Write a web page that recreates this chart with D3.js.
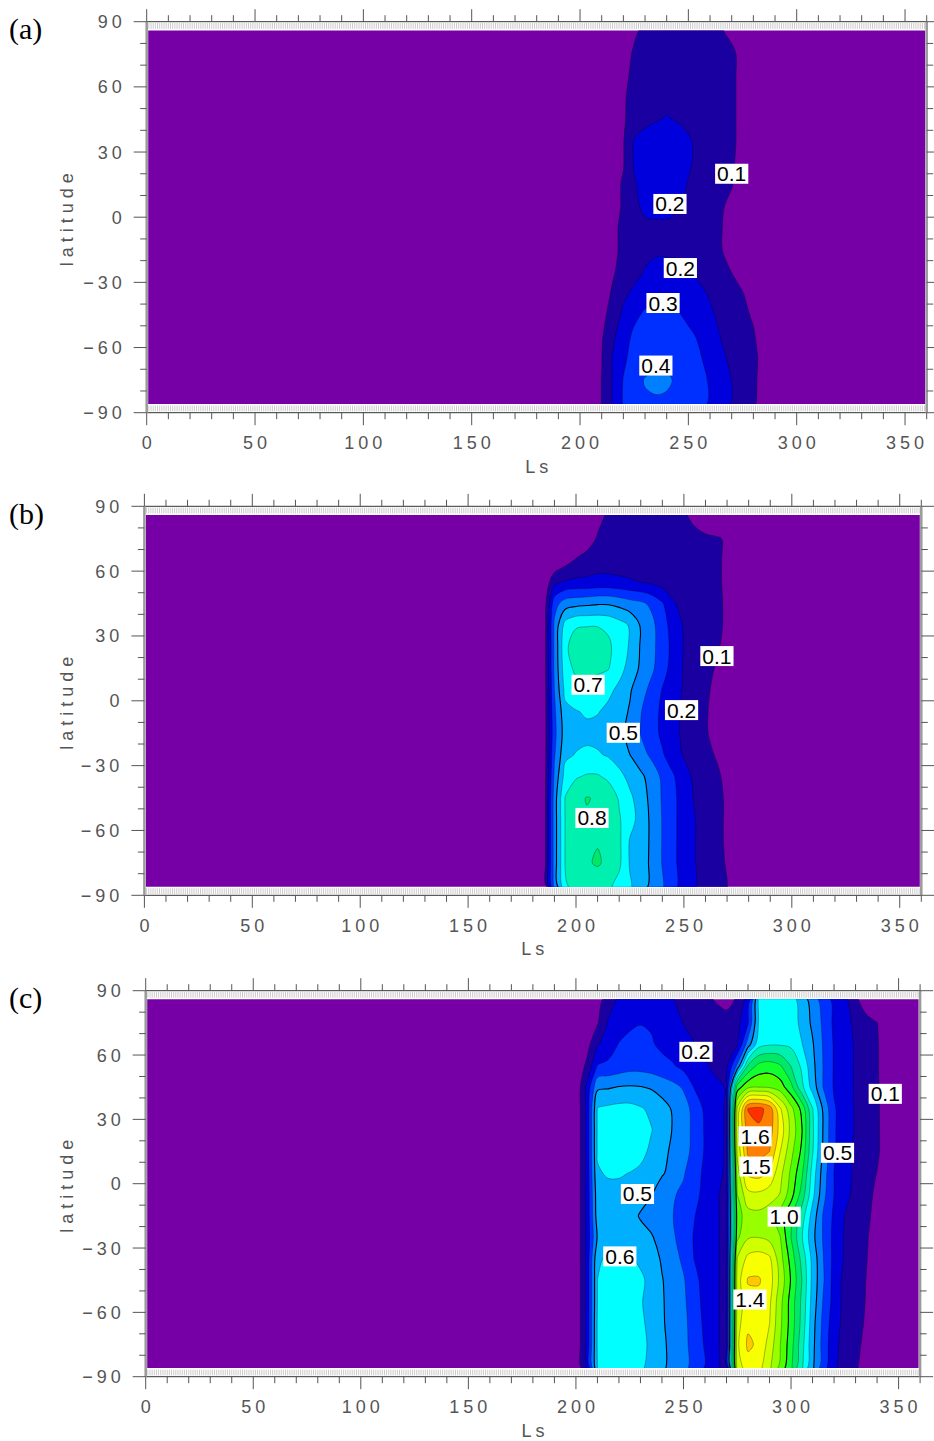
<!DOCTYPE html>
<html>
<head>
<meta charset="utf-8">
<script src="https://cdn.jsdelivr.net/npm/d3@7"></script>
<style>
  body { margin: 0; background: #fff; }
  svg { display: block; }
</style>
</head>
<body>
<svg id="chart" width="934" height="1441"></svg>
<script>
// contour levels and tick labels
const levels = [0.1, 0.2, 0.3, 0.4, 0.5, 0.6, 0.7, 0.8, 0.9, 1.0, 1.1, 1.2, 1.3, 1.4, 1.5, 1.6];
const xTicks = [0, 50, 100, 150, 200, 250, 300, 350];
const yTicks = [-90, -60, -30, 0, 30, 60, 90];

// grid rows (latitude, north to south)
const lat = [85, 75, 65, 55, 45, 35, 25, 15, 5, -5, -15, -25, -35, -45, -55, -65, -75, -85];

// (a) columns Ls 200..290
const lsA = [200, 205, 210, 215, 220, 225, 230, 235, 240, 245, 250, 255, 260, 265, 270, 275, 280, 285, 290];
const valuesA = [
  [0, 0, 0, .02, .05, .09, .12, .13, .13, .13, .13, .12, .12, .11, .08, .03, 0, 0, 0],
  [0, 0, 0, .02, .07, .11, .14, .15, .15, .15, .15, .14, .14, .13, .12, .07, .02, 0, 0],
  [0, 0, 0, .03, .08, .12, .15, .16, .17, .17, .16, .15, .14, .13, .12, .07, .02, 0, 0],
  [0, 0, 0, .04, .09, .13, .16, .17, .18, .17, .16, .15, .14, .13, .12, .07, .02, 0, 0],
  [0, 0, 0, .05, .09, .14, .18, .195, .205, .195, .18, .16, .14, .13, .12, .07, .02, 0, 0],
  [0, 0, .02, .06, .095, .21, .23, .24, .24, .23, .21, .18, .15, .13, .12, .07, .02, 0, 0],
  [0, 0, .02, .06, .095, .21, .24, .25, .25, .24, .21, .18, .15, .13, .115, .06, .02, 0, 0],
  [0, 0, .03, .07, .11, .19, .24, .25, .25, .23, .195, .17, .14, .12, .105, .05, .01, 0, 0],
  [0, 0, .03, .07, .11, .18, .22, .23, .23, .21, .18, .15, .13, .11, .08, .03, 0, 0, 0],
  [0, 0, .03, .08, .12, .16, .18, .18, .18, .17, .16, .14, .12, .105, .07, .02, 0, 0, 0],
  [0, 0, .03, .08, .12, .16, .18, .19, .19, .19, .17, .15, .13, .105, .07, .02, 0, 0, 0],
  [0, .01, .05, .09, .13, .17, .205, .22, .22, .215, .205, .18, .15, .13, .098, .05, .01, 0, 0],
  [0, .02, .06, .11, .18, .22, .26, .28, .28, .27, .25, .22, .19, .16, .13, .105, .05, .01, 0],
  [0, .03, .07, .14, .22, .28, .315, .33, .325, .31, .28, .25, .215, .18, .15, .12, .09, .03, 0],
  [0, .04, .09, .18, .26, .32, .35, .36, .36, .35, .32, .29, .25, .198, .17, .14, .11, .05, 0],
  [.01, .05, .098, .205, .28, .34, .37, .38, .38, .37, .34, .31, .27, .22, .18, .15, .12, .07, .01],
  [.01, .05, .102, .205, .305, .37, .405, .41, .41, .39, .36, .33, .29, .24, .198, .15, .12, .06, .01],
  [.01, .05, .102, .205, .31, .37, .39, .395, .39, .37, .35, .32, .295, .24, .198, .15, .115, .06, .01]
];

// (b) columns Ls 180..280
const lsB = [180, 185, 190, 195, 200, 205, 210, 215, 220, 225, 230, 235, 240, 245, 250, 255, 260, 265, 270, 275, 280];
const valuesB = [
  [0, 0, 0, 0, 0, .01, .07, .12, .14, .14, .14, .13, .13, .12, .11, .085, .05, .02, 0, 0, 0],
  [0, 0, 0, 0, .01, .05, .11, .14, .15, .15, .15, .14, .14, .13, .13, .12, .115, .11, .09, .02, 0],
  [0, 0, .01, .06, .11, .14, .15, .15, .15, .15, .15, .14, .14, .13, .13, .12, .12, .11, .09, .02, 0],
  [0, .02, .17, .21, .22, .22, .23, .23, .22, .21, .198, .18, .16, .15, .14, .13, .12, .11, .09, .02, 0],
  [0, .03, .36, .45, .47, .48, .49, .49, .47, .44, .42, .38, .31, .21, .17, .14, .13, .115, .09, .02, 0],
  [0, .03, .42, .64, .69, .695, .695, .68, .64, .59, .49, .43, .34, .26, .19, .15, .13, .115, .09, .02, 0],
  [0, .03, .42, .68, .75, .76, .76, .72, .65, .59, .49, .43, .35, .27, .195, .16, .13, .11, .08, .02, 0],
  [0, .03, .42, .66, .72, .73, .72, .705, .63, .57, .48, .42, .34, .26, .19, .15, .12, .095, .05, .01, 0],
  [0, .03, .4, .63, .66, .66, .65, .62, .58, .51, .44, .37, .295, .24, .19, .15, .115, .08, .03, 0, 0],
  [0, .03, .38, .57, .595, .61, .605, .58, .54, .49, .405, .34, .28, .23, .18, .14, .11, .07, .02, 0, 0],
  [0, .03, .37, .55, .57, .58, .57, .55, .52, .48, .395, .34, .28, .23, .18, .14, .11, .07, .02, 0, 0],
  [0, .03, .39, .58, .605, .615, .61, .59, .55, .5, .44, .38, .31, .25, .19, .15, .12, .095, .04, 0, 0],
  [0, .03, .42, .64, .69, .71, .71, .68, .63, .57, .52, .46, .38, .31, .24, .18, .14, .115, .08, .02, 0],
  [0, .03, .45, .705, .77, .805, .79, .76, .69, .62, .55, .47, .39, .32, .26, .19, .15, .12, .09, .02, 0],
  [0, .03, .45, .705, .77, .79, .79, .77, .71, .64, .56, .48, .395, .32, .26, .205, .15, .12, .09, .02, 0],
  [0, .03, .45, .705, .77, .79, .795, .77, .72, .59, .56, .48, .395, .32, .26, .205, .15, .12, .09, .02, 0],
  [0, .03, .45, .705, .77, .79, .81, .78, .72, .59, .55, .48, .395, .32, .26, .205, .15, .12, .095, .03, 0],
  [0, .03, .44, .69, .74, .76, .75, .72, .67, .61, .55, .48, .41, .33, .26, .21, .16, .12, .102, .03, 0]
];

// (c) columns Ls 195..355
const lsC = [195, 200, 205, 210, 215, 220, 225, 230, 235, 240, 245, 250, 255, 260, 265, 270, 275,
  280, 285, 290, 295, 300, 305, 310, 315, 320, 325, 330, 335, 340, 345, 350, 355];
const valuesC = [
  [0, 0, 0, .06, .16, .22, .25, .26, .25, .23, .205, .18, .15, .12, .098, .08, .11, .25, .62, .66, .67, .65, .56, .46, .36, .28, .23, .13, .04, 0, 0, 0, 0],
  [0, 0, .02, .09, .21, .25, .28, .295, .29, .26, .23, .198, .18, .16, .14, .13, .17, .29, .61, .67, .68, .66, .57, .48, .38, .28, .23, .18, .14, .102, .03, 0, 0],
  [0, .01, .06, .19, .25, .305, .33, .34, .31, .28, .25, .22, .202, .18, .16, .16, .19, .45, .66, .69, .69, .68, .605, .51, .39, .29, .24, .19, .15, .11, .04, 0, 0],
  [0, .02, .12, .305, .32, .34, .36, .36, .35, .33, .31, .27, .24, .21, .18, .18, .42, .81, .93, .95, .91, .795, .68, .53, .395, .29, .24, .19, .15, .11, .04, 0, 0],
  [0, .02, .22, .48, .49, .505, .51, .505, .49, .46, .43, .39, .295, .26, .22, .195, .95, 1.08, 1.1, 1.09, 1.05, .93, .73, .56, .395, .29, .24, .19, .15, .11, .05, 0, 0],
  [0, .02, .22, .605, .62, .63, .63, .61, .58, .54, .49, .44, .37, .28, .23, .19, 1.22, 1.605, 1.63, 1.56, 1.31, 1.13, .97, .705, .48, .31, .25, .19, .15, .115, .05, 0, 0],
  [0, .02, .22, .61, .65, .67, .67, .65, .605, .55, .495, .45, .37, .29, .23, .19, 1.26, 1.56, 1.585, 1.55, 1.36, 1.17, 1.01, .72, .49, .31, .25, .19, .15, .115, .05, 0, 0],
  [0, .02, .22, .61, .65, .66, .66, .63, .58, .53, .48, .44, .37, .29, .23, .19, 1.22, 1.52, 1.53, 1.5, 1.3, 1.13, .98, .71, .48, .31, .24, .18, .15, .115, .05, 0, 0],
  [0, .02, .22, .59, .61, .61, .598, .58, .55, .51, .47, .41, .34, .28, .22, .19, 1.15, 1.42, 1.44, 1.38, 1.23, 1.08, .92, .66, .45, .298, .24, .18, .14, .098, .04, 0, 0],
  [0, .02, .22, .56, .57, .57, .56, .54, .505, .45, .41, .38, .33, .27, .21, .18, 1.1, 1.27, 1.28, 1.25, 1.195, 1.04, .86, .63, .43, .298, .22, .18, .13, .08, .02, 0, 0],
  [0, .02, .22, .55, .56, .56, .54, .49, .46, .43, .402, .36, .305, .25, .21, .18, 1.05, 1.16, 1.17, 1.14, 1.05, .92, .75, .56, .39, .28, .198, .16, .12, .07, .02, 0, 0],
  [0, .02, .22, .51, .56, .57, .56, .54, .51, .46, .41, .37, .29, .24, .21, .18, 1.08, 1.19, 1.198, 1.17, 1.102, .898, .71, .53, .39, .27, .19, .16, .11, .06, .01, 0, 0],
  [0, .02, .22, .59, .61, .62, .61, .58, .54, .49, .44, .38, .298, .25, .21, .18, 1.205, 1.33, 1.35, 1.32, 1.14, .96, .77, .57, .402, .27, .19, .15, .105, .05, .01, 0, 0],
  [0, .02, .22, .6, .63, .64, .64, .62, .57, .505, .46, .41, .33, .26, .21, .18, 1.25, 1.41, 1.41, 1.35, 1.17, .99, .802, .57, .41, .26, .17, .14, .098, .05, .01, 0, 0],
  [0, .02, .22, .6, .63, .65, .64, .61, .56, .51, .46, .42, .34, .27, .21, .18, 1.24, 1.36, 1.37, 1.32, 1.13, .96, .78, .56, .39, .26, .17, .14, .095, .04, 0, 0, 0],
  [0, .02, .22, .61, .64, .66, .65, .62, .57, .51, .47, .43, .35, .28, .21, .18, 1.26, 1.38, 1.38, 1.302, 1.12, .96, .77, .54, .37, .24, .17, .13, .09, .04, 0, 0, 0],
  [0, .02, .22, .61, .64, .66, .66, .63, .58, .52, .47, .43, .36, .29, .21, .18, 1.28, 1.42, 1.38, 1.26, 1.102, .94, .74, .53, .36, .23, .16, .12, .08, .03, 0, 0, 0],
  [0, .02, .22, .602, .63, .65, .65, .62, .57, .52, .47, .43, .37, .298, .21, .18, 1.25, 1.36, 1.34, 1.22, 1.08, .92, .72, .52, .35, .22, .15, .11, .07, .02, 0, 0, 0]
];

// contour labels: text, Ls, latitude
const labelsA = [
  ['0.1', 270, 20], ['0.2', 241.5, 6.1], ['0.2', 246.3, -23.4], ['0.3', 238.3, -39.5], ['0.4', 235, -68.3]
];
const labelsB = [
  ['0.1', 265.3, 20.7], ['0.7', 205.6, 7.4], ['0.5', 221.9, -14.8], ['0.2', 248.9, -4.3], ['0.8', 207.4, -54.2]
];
const labelsC = [
  ['0.2', 255.8, 61.5], ['0.1', 343.8, 41.9], ['1.6', 283.3, 22.1], ['1.5', 283.7, 8], ['0.5', 321.6, 14.4],
  ['0.5', 228.6, -4.8], ['1.0', 296.8, -15.4], ['0.6', 220.4, -33.9], ['1.4', 280.9, -54]
];

const baseColor = '#7600a6';
const bandColors = ['#1a00a0', '#0000dc', '#0030ff', '#0080ff', '#00b0ff', '#00ffff', '#00f0b0', '#00e868',
  '#10ff30', '#50ff00', '#98ff00', '#d0ff00', '#f8ff00', '#ffc800', '#ff8000', '#ff3000'];

const panels = [
  { tag: '(a)', ls: lsA, values: valuesA, labels: labelsA, xr: [146.7, 926.7], yr: [21.7, 412.7] },
  { tag: '(b)', ls: lsB, values: valuesB, labels: labelsB, xr: [144.4, 921.3], yr: [506.3, 895.3] },
  { tag: '(c)', ls: lsC, values: valuesC, labels: labelsC, xr: [145.7, 920.1], yr: [990.7, 1376.7] }
];

const svg = d3.select('#chart');
const axisFont = "'Liberation Sans', Arial, sans-serif";

panels.forEach((p, i) => {
  const x = d3.scaleLinear().domain([0, 360]).range(p.xr);
  const y = d3.scaleLinear().domain([90, -90]).range(p.yr);
  const g = svg.append('g');

  // clip to data area
  const clipId = 'clip' + i;
  g.append('clipPath').attr('id', clipId)
    .append('rect')
    .attr('x', x(0) + 1.5)
    .attr('y', y(86))
    .attr('width', x(360) - x(0) - 3)
    .attr('height', y(-86) - y(86));

  const body = g.append('g').attr('clip-path', `url(#${clipId})`);
  body.append('rect')
    .attr('x', x(0)).attr('y', y(90))
    .attr('width', x(360) - x(0)).attr('height', y(-90) - y(90))
    .attr('fill', baseColor);

  // filled contours
  const nx = p.ls.length, ny = lat.length;
  const step = p.ls[1] - p.ls[0];
  const contours = d3.contours().size([nx, ny]).thresholds(levels)(p.values.flat());
  const line = d3.line()
    .x(d => x(p.ls[0] + (d[0] - 0.5) * step))
    .y(d => y(lat[0] + (d[1] - 0.5) * (lat[1] - lat[0])))
    .curve(d3.curveCatmullRomClosed.alpha(0.5));
  const pathOf = c => c.coordinates
    .map(poly => poly.map(ring => line(ring.slice(0, -1))).join(''))
    .join('');

  body.selectAll('path.band')
    .data(contours)
    .join('path')
    .attr('class', 'band')
    .attr('d', pathOf)
    .attr('fill', (d, k) => bandColors[k]);

  body.selectAll('path.iso')
    .data(contours)
    .join('path')
    .attr('class', 'iso')
    .attr('d', pathOf)
    .attr('fill', 'none')
    .attr('stroke', '#000')
    .attr('stroke-width', d => (d.value === 0.5 || d.value === 1.0) ? 1.1 : 0.5)
    .attr('stroke-opacity', d => (d.value === 0.5 || d.value === 1.0) ? 1 : 0.6);

  // hairline strips top and bottom
  const hair = d3.range(1, 360);
  [[89.4, 86.7], [-86.7, -89.4]].forEach(([a, b]) => {
    g.append('g').selectAll('line')
      .data(hair)
      .join('line')
      .attr('x1', d => x(d)).attr('x2', d => x(d))
      .attr('y1', y(a)).attr('y2', y(b))
      .attr('stroke', '#a8a8a8')
      .attr('stroke-width', 0.6);
  });

  // frame
  g.append('line').attr('x1', x(0)).attr('x2', x(360)).attr('y1', y(90)).attr('y2', y(90))
    .attr('stroke', '#333').attr('stroke-width', 1);
  g.append('line').attr('x1', x(0)).attr('x2', x(360)).attr('y1', y(-90)).attr('y2', y(-90))
    .attr('stroke', '#333').attr('stroke-width', 1);
  g.append('line').attr('x1', x(0)).attr('x2', x(0)).attr('y1', y(90)).attr('y2', y(-90))
    .attr('stroke', '#9a9a9a').attr('stroke-width', 2.5);
  g.append('line').attr('x1', x(360)).attr('x2', x(360)).attr('y1', y(90)).attr('y2', y(-90))
    .attr('stroke', '#9a9a9a').attr('stroke-width', 2.5);

  // ticks
  const lsMinor = d3.range(0, 361, 10);
  const latMinor = d3.range(-90, 91, 10);
  const tick = (sel) => sel.attr('stroke', '#555').attr('stroke-width', 1);

  g.append('g').selectAll('line').data(lsMinor).join('line')
    .attr('x1', d => x(d)).attr('x2', d => x(d))
    .attr('y1', y(90)).attr('y2', d => y(90) - (d % 50 === 0 ? 12.5 : 6.5))
    .call(tick);
  g.append('g').selectAll('line').data(lsMinor).join('line')
    .attr('x1', d => x(d)).attr('x2', d => x(d))
    .attr('y1', y(-90)).attr('y2', d => y(-90) + (d % 50 === 0 ? 12.5 : 6.5))
    .call(tick);
  g.append('g').selectAll('line').data(latMinor).join('line')
    .attr('y1', d => y(d)).attr('y2', d => y(d))
    .attr('x1', x(0)).attr('x2', d => x(0) - (d % 30 === 0 ? 13 : 6.5))
    .call(tick);
  g.append('g').selectAll('line').data(latMinor).join('line')
    .attr('y1', d => y(d)).attr('y2', d => y(d))
    .attr('x1', x(360)).attr('x2', d => x(360) + (d % 30 === 0 ? 13 : 6.5))
    .call(tick);

  // tick labels
  g.append('g').selectAll('text').data(xTicks).join('text')
    .attr('x', d => x(d) + 2)
    .attr('y', y(-90) + 36.5)
    .attr('text-anchor', 'middle')
    .text(d => d);
  g.append('g').selectAll('text').data(yTicks).join('text')
    .attr('x', x(0) - 21)
    .attr('y', d => y(d) + 6.5)
    .attr('text-anchor', 'end')
    .text(d => d < 0 ? '\u2212' + Math.abs(d) : d);
  g.selectAll('text')
    .attr('font-family', axisFont)
    .attr('font-size', 18)
    .attr('letter-spacing', 4)
    .attr('fill', '#555');

  // axis titles
  g.append('text')
    .attr('x', (x(0) + x(360)) / 2 + 2)
    .attr('y', y(-90) + 60)
    .attr('text-anchor', 'middle')
    .attr('font-family', axisFont).attr('font-size', 18)
    .attr('letter-spacing', 4).attr('fill', '#555')
    .text('Ls');
  g.append('text')
    .attr('transform', `translate(73, ${(y(90) + y(-90)) / 2}) rotate(-90)`)
    .attr('text-anchor', 'middle')
    .attr('font-family', axisFont).attr('font-size', 18)
    .attr('letter-spacing', 5).attr('fill', '#555')
    .text('latitude');

  // panel tag
  g.append('text')
    .attr('x', 9)
    .attr('y', y(90) + 17.5)
    .attr('font-family', "'Liberation Serif', 'Times New Roman', serif")
    .attr('font-size', 30)
    .attr('fill', '#000')
    .text(p.tag);

  // contour labels
  const lab = g.append('g').selectAll('g').data(p.labels).join('g')
    .attr('transform', d => `translate(${x(d[1])},${y(d[2])})`);
  const txt = lab.append('text')
    .attr('text-anchor', 'middle')
    .attr('y', 7.5)
    .attr('font-family', axisFont)
    .attr('font-size', 21)
    .attr('fill', '#000')
    .text(d => d[0]);
  txt.each(function () {
    const w = this.getComputedTextLength() + 4;
    d3.select(this.parentNode).insert('rect', 'text')
      .attr('x', -w / 2).attr('y', -10)
      .attr('width', w).attr('height', 20)
      .attr('fill', '#fff');
  });
});
</script>
</body>
</html>
